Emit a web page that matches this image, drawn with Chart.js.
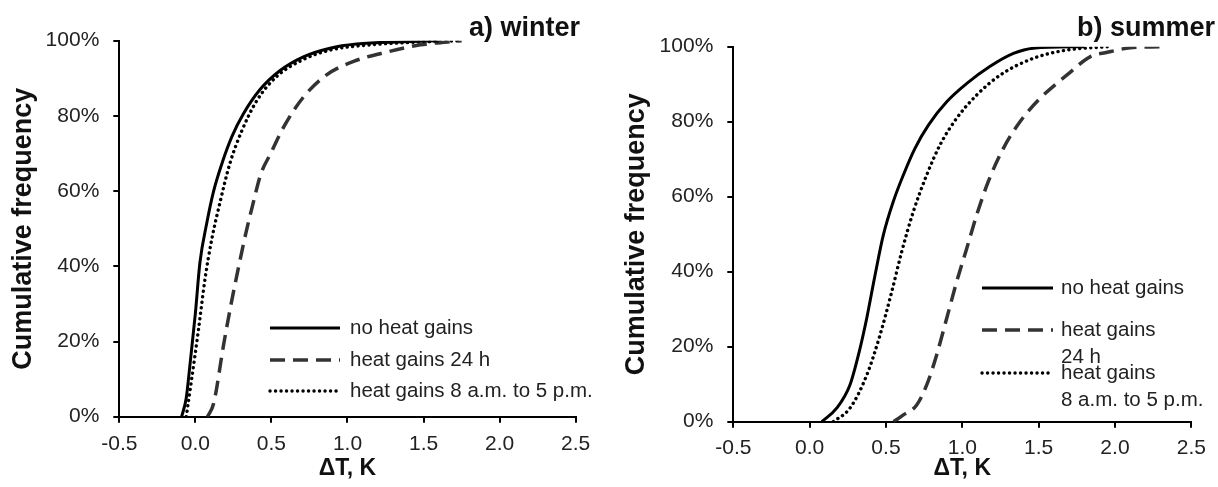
<!DOCTYPE html>
<html>
<head>
<meta charset="utf-8">
<script src="https://cdn.jsdelivr.net/npm/chart.js@4"></script>
<style>
  html, body { margin: 0; padding: 0; background: #fff; }
  body { width: 1218px; height: 487px; position: relative; overflow: hidden; }
  .panel { position: absolute; top: 0; width: 609px; height: 487px; }
  #pa { left: 0; }
  #pb { left: 609px; }
</style>
</head>
<body>
<div class="panel" id="pa"><canvas id="ca" width="609" height="487"></canvas></div>
<div class="panel" id="pb"><canvas id="cb" width="609" height="487"></canvas></div>
<script>
// ---------------- data ----------------
const seriesLabels = ['no heat gains', 'heat gains 24 h', 'heat gains 8 a.m. to 5 p.m.'];
const xTickValues = [-0.5, 0.0, 0.5, 1.0, 1.5, 2.0, 2.5];
const yTickValues = [0, 20, 40, 60, 80, 100];

// a) winter
const winterNoGainsX = [-0.09, -0.06, -0.035, 0.0, 0.03, 0.075, 0.12, 0.18, 0.24, 0.315, 0.425, 0.555, 0.71, 0.885, 1.06, 1.37, 1.6];
const winterNoGainsY = [0, 5, 14, 27.5, 41, 51.5, 60, 68, 74.5, 80.5, 87, 92, 95.7, 98, 99.1, 99.7, 100];
const winter24hX = [0.08, 0.12, 0.185, 0.235, 0.285, 0.33, 0.375, 0.43, 0.495, 0.58, 0.71, 0.865, 1.04, 1.26, 1.48, 1.75];
const winter24hY = [0, 3.5, 19, 30, 40, 48.5, 56, 64.5, 70, 77, 85, 91, 94.5, 97, 98.9, 100];
const winterDayX = [-0.06, -0.025, 0.02, 0.063, 0.107, 0.162, 0.228, 0.305, 0.403, 0.535, 0.71, 0.885, 1.15, 1.45, 1.75];
const winterDayY = [0, 9.8, 23, 36.5, 47, 57, 67.5, 76, 84, 90.5, 95, 97.5, 98.9, 99.6, 100];

// b) summer
const summerNoGainsX = [0.08, 0.177, 0.264, 0.325, 0.374, 0.428, 0.483, 0.548, 0.614, 0.69, 0.778, 0.898, 1.03, 1.18, 1.335, 1.465, 1.8];
const summerNoGainsY = [0, 3.6, 9.8, 18.7, 27.6, 39, 49.8, 58.7, 65.8, 72.9, 79.1, 85.3, 90.2, 94.7, 98.2, 99.6, 100];
const summer24hX = [0.55, 0.614, 0.70, 0.767, 0.832, 0.898, 0.963, 1.029, 1.094, 1.17, 1.269, 1.378, 1.509, 1.684, 1.837, 1.95, 2.1, 2.3];
const summer24hY = [0, 1.8, 4.4, 9.8, 17.8, 27.6, 37.3, 46.2, 55.1, 64, 72.9, 80, 86.2, 92.4, 97.3, 98.5, 99.7, 100];
const summerDayX = [0.155, 0.264, 0.374, 0.461, 0.538, 0.603, 0.679, 0.767, 0.854, 0.963, 1.094, 1.247, 1.465, 1.684, 1.95];
const summerDayY = [0, 3.6, 12.4, 23.1, 34.7, 45.3, 56, 65.8, 73.8, 80.9, 87.1, 92.4, 96.9, 99.1, 100];

// ---------------- helpers ----------------
const FONT = '"Liberation Sans", Arial, Helvetica, sans-serif';
const toPoints = (xs, ys) => xs.map((x, i) => ({ x: x, y: ys[i] }));

const lineStyles = [
  { borderColor: '#000', borderWidth: 3, borderDash: [], borderCapStyle: 'butt' },
  { borderColor: '#333', borderWidth: 3.5, borderDash: [15, 8], borderCapStyle: 'butt' },
  { borderColor: '#000', borderWidth: 3.4, borderDash: [0.1, 5.4], borderCapStyle: 'round' }
];

const panelText = {
  id: 'panelText',
  afterDraw(chart, args, o) {
    const ctx = chart.ctx;
    ctx.save();
    // panel title
    ctx.font = 'bold 27px ' + FONT;
    ctx.fillStyle = '#111';
    ctx.textAlign = 'right';
    ctx.textBaseline = 'alphabetic';
    ctx.fillText(o.title, o.titleX, o.titleY);
    // legend
    ctx.font = '20.5px ' + FONT;
    ctx.textAlign = 'left';
    ctx.textBaseline = 'middle';
    chart.data.datasets.forEach((ds, i) => {
      const row = o.rows[i];
      ctx.save();
      ctx.strokeStyle = ds.borderColor;
      ctx.lineWidth = ds.borderWidth;
      ctx.lineCap = ds.borderCapStyle;
      ctx.setLineDash(ds.borderDash);
      ctx.beginPath();
      ctx.moveTo(o.lineX0, row.y);
      ctx.lineTo(o.lineX1, row.y);
      ctx.stroke();
      ctx.restore();
      ctx.fillStyle = '#222';
      row.lines.forEach((t, k) => ctx.fillText(t, o.textX, row.y + k * o.lineGap));
    });
    ctx.restore();
  }
};

function makeChart(canvasId, sets, g, legendOpts) {
  const datasets = sets.map((pts, i) => Object.assign({
    label: seriesLabels[i],
    data: pts,
    pointRadius: 0,
    pointHoverRadius: 0,
    fill: false,
    cubicInterpolationMode: 'monotone'
  }, lineStyles[i]));

  return new Chart(document.getElementById(canvasId), {
    type: 'line',
    data: { datasets: datasets },
    plugins: [panelText],
    options: {
      responsive: false,
      animation: false,
      devicePixelRatio: 1,
      layout: { padding: { left: 0, top: g.top, right: g.right, bottom: 0 } },
      plugins: {
        legend: { display: false },
        tooltip: { enabled: false },
        panelText: legendOpts
      },
      scales: {
        x: {
          type: 'linear',
          min: xTickValues[0],
          max: xTickValues[xTickValues.length - 1],
          afterBuildTicks: s => { s.ticks = xTickValues.map(v => ({ value: v })); },
          afterFit: s => { s.height = g.xAxisH; },
          ticks: {
            color: '#222',
            font: { family: FONT, size: 21 },
            padding: g.xTickPad,
            maxRotation: 0,
            callback: v => Number(v).toFixed(1)
          },
          grid: { display: true, drawOnChartArea: false, drawTicks: true, tickLength: 6, color: '#000', lineWidth: 2 },
          border: { display: true, color: '#000', width: 2 },
          title: {
            display: true,
            text: 'ΔT, K',
            color: '#111',
            font: { family: FONT, size: 23, weight: 'bold' },
            padding: { top: 0, bottom: g.xTitlePad }
          }
        },
        y: {
          type: 'linear',
          min: 0,
          max: 100,
          afterBuildTicks: s => { s.ticks = yTickValues.map(v => ({ value: v })); },
          afterFit: s => { s.width = g.yAxisW; },
          ticks: {
            color: '#222',
            font: { family: FONT, size: 21 },
            padding: 14,
            callback: v => v + '%'
          },
          grid: { display: true, drawOnChartArea: false, drawTicks: true, tickLength: 6, color: '#000', lineWidth: 2 },
          border: { display: true, color: '#000', width: 2 },
          title: {
            display: true,
            text: 'Cumulative frequency',
            color: '#111',
            font: { family: FONT, size: 27, weight: 'bold' },
            padding: { top: g.yTitlePad, bottom: 0 }
          }
        }
      }
    }
  });
}

makeChart('ca',
  [toPoints(winterNoGainsX, winterNoGainsY), toPoints(winter24hX, winter24hY), toPoints(winterDayX, winterDayY)],
  { top: 40.7, right: 33.3, xAxisH: 70.3, yAxisW: 119.3, xTickPad: 9, xTitlePad: 5, yTitlePad: 7 },
  {
    title: 'a) winter', titleX: 580, titleY: 36,
    lineX0: 270, lineX1: 340, textX: 350, lineGap: 27,
    rows: [
      { y: 328, lines: ['no heat gains'] },
      { y: 360, lines: ['heat gains 24 h'] },
      { y: 391, lines: ['heat gains 8 a.m. to 5 p.m.'] }
    ]
  });

makeChart('cb',
  [toPoints(summerNoGainsX, summerNoGainsY), toPoints(summer24hX, summer24hY), toPoints(summerDayX, summerDayY)],
  { top: 46.7, right: 26.7, xAxisH: 65.3, yAxisW: 124.3, xTickPad: 8, xTitlePad: 5, yTitlePad: 11 },
  {
    title: 'b) summer', titleX: 606, titleY: 36,
    lineX0: 373, lineX1: 444, textX: 452, lineGap: 27,
    rows: [
      { y: 288, lines: ['no heat gains'] },
      { y: 330, lines: ['heat gains', '24 h'] },
      { y: 373, lines: ['heat gains', '8 a.m. to 5 p.m.'] }
    ]
  });
</script>
</body>
</html>
